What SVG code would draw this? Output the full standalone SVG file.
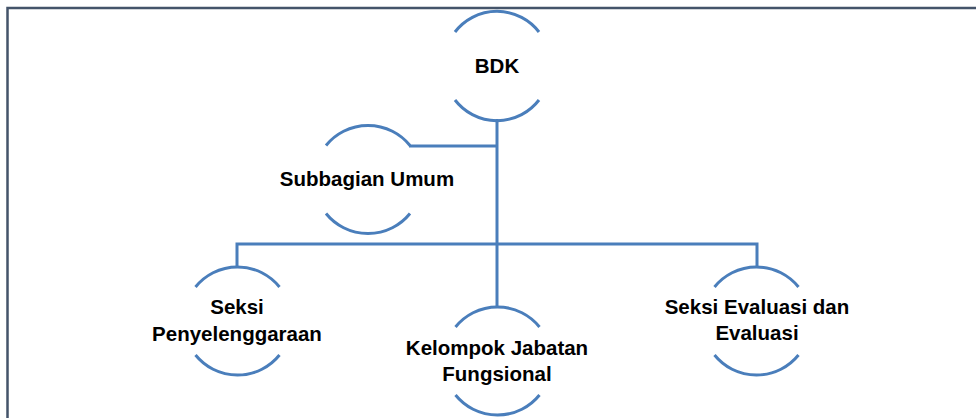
<svg xmlns="http://www.w3.org/2000/svg" width="976" height="418" viewBox="0 0 976 418">
<style>
.arc{fill:none;stroke:#4a7ebb;stroke-width:3}
.con{fill:none;stroke:#4a7ebb;stroke-width:3}
.frame{fill:none;stroke:#44546a;stroke-width:2.5}
text{font-family:"Liberation Sans",Arial,sans-serif;font-weight:bold;font-size:20.5px;fill:#000;text-anchor:middle}
</style>
<rect x="0" y="0" width="976" height="418" fill="#fff"/>
<path class="frame" d="M7.5,418 V8 H976"/>
<g id="connectors">
<path class="con" d="M497,119 V307"/>
<path class="con" d="M409,146 H497"/>
<path class="con" d="M237,267 V244 H757 V267"/>
</g>
<g id="bdk">
<path class="arc" d="M455,32 A53,53 0 0 1 539,32"/>
<path class="arc" d="M455,100 A53,53 0 0 0 539,100"/>
<text x="497" y="73">BDK</text>
</g>
<g id="subbagian-umum">
<path class="arc" d="M326,145.5 A54,54 0 0 1 410,145.5"/>
<path class="arc" d="M326,213.5 A54,54 0 0 0 410,213.5"/>
<text x="367" y="186">Subbagian Umum</text>
</g>
<g id="seksi-penyelenggaraan">
<path class="arc" d="M195.5,287 A54,54 0 0 1 279.5,287"/>
<path class="arc" d="M195.5,355 A54,54 0 0 0 279.5,355"/>
<text x="237" y="314">Seksi</text>
<text x="237" y="341">Penyelenggaraan</text>
</g>
<g id="kelompok-jabatan-fungsional">
<path class="arc" d="M455.5,327 A54,54 0 0 1 539.5,327"/>
<path class="arc" d="M455.5,395 A54,54 0 0 0 539.5,395"/>
<text x="497" y="355">Kelompok Jabatan</text>
<text x="497" y="381">Fungsional</text>
</g>
<g id="seksi-evaluasi">
<path class="arc" d="M714.5,287 A54,54 0 0 1 798.5,287"/>
<path class="arc" d="M714.5,355 A54,54 0 0 0 798.5,355"/>
<text x="757" y="314">Seksi Evaluasi dan</text>
<text x="757" y="340">Evaluasi</text>
</g>
</svg>
